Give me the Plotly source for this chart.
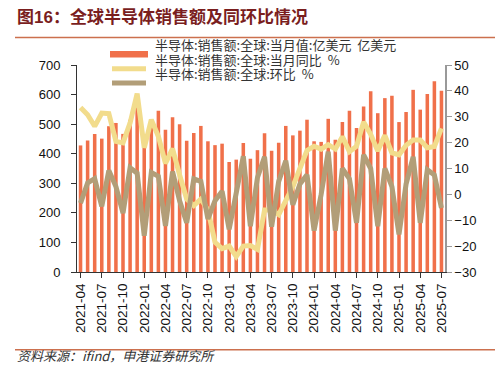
import plotly.graph_objects as go

months = ["2021-04","2021-05","2021-06","2021-07","2021-08","2021-09","2021-10","2021-11","2021-12",
          "2022-01","2022-02","2022-03","2022-04","2022-05","2022-06","2022-07","2022-08","2022-09","2022-10","2022-11","2022-12",
          "2023-01","2023-02","2023-03","2023-04","2023-05","2023-06","2023-07","2023-08","2023-09","2023-10","2023-11","2023-12",
          "2024-01","2024-02","2024-03","2024-04","2024-05","2024-06","2024-07","2024-08","2024-09","2024-10","2024-11","2024-12",
          "2025-01","2025-02","2025-03","2025-04","2025-05","2025-06","2025-07"]

sales = [428,445,467,451,493,504,467,515,557,464,515,545,481,523,500,444,470,494,442,429,434,
         372,380,436,383,412,469,410,437,494,462,478,515,442,440,518,447,507,545,487,560,611,537,
         588,596,507,541,616,549,602,645,613]

yoy = [33.6,30.8,26.3,31.4,31.2,20.5,19.9,27.6,39.0,18.0,28.9,22.4,12.0,17.7,7.5,-1.8,-4.3,-1.8,-6.0,
       -18.5,-21.0,-20.0,-24.0,-20.0,-19.8,-21.3,-6.0,-6.0,-7.8,-2.0,3.0,10.0,17.0,18.6,17.5,19.2,17.5,
       22.3,16.5,18.6,28.0,23.2,16.8,22.8,16.0,15.3,19.0,21.0,21.0,18.0,18.5,25.5]

mom = [-3.4,4.4,6.1,-4.6,9.2,3.0,-7.2,10.3,8.2,-16.0,8.5,7.0,-12.2,8.8,-2.5,-11.0,6.0,5.0,-9.5,-2.5,1.2,
       -13.5,0.5,14.7,-12.3,6.5,14.5,-12.5,5.0,13.0,-4.0,4.0,7.6,-14.0,0.0,16.5,-14.0,10.0,6.0,-11.0,15.3,
       10.0,-12.3,10.0,3.0,-15.5,4.0,14.5,-11.0,9.5,7.5,-5.3]

tick_labels = months[::3]

names = ["半导体:销售额:全球:当月值:亿美元  亿美元",
         "半导体:销售额:全球:当月同比  %",
         "半导体:销售额:全球:环比  %"]

bar_color = "rgb(240,112,74)"
yoy_color = "rgb(242,220,140)"
mom_color = "rgb(178,158,120)"

FONT = "Arial, Liberation Sans, Noto Sans CJK SC, sans-serif"
CJK = "Noto Sans CJK SC, sans-serif"

fig = go.Figure()
fig.add_trace(go.Bar(x=months, y=sales, name=names[0], marker_color=bar_color,
                     marker_line_width=0, yaxis="y", showlegend=False))
fig.add_trace(go.Scatter(x=months, y=yoy, name=names[1], mode="lines",
                         line=dict(color=yoy_color, width=5), yaxis="y2", showlegend=False))
fig.add_trace(go.Scatter(x=months, y=mom, name=names[2], mode="lines",
                         line=dict(color=mom_color, width=5), yaxis="y2", showlegend=False))

W, H = 503, 371
L, R, T, B = 69, 437, 57, 264

def px(x):
    return (x - L) / (R - L)

def py(y):
    return (B - y) / (B - T)

shapes = []
annotations = []
rule_color = "rgb(204,112,78)"
shapes.append(dict(type="line", xref="paper", yref="paper", x0=px(7), x1=px(497), y0=py(29.5), y1=py(29.5),
                   line=dict(color=rule_color, width=1.5)))
shapes.append(dict(type="line", xref="paper", yref="paper", x0=px(7), x1=px(497), y0=py(341.7), y1=py(341.7),
                   line=dict(color=rule_color, width=1.5)))
annotations.append(dict(text="<b>图16：全球半导体销售额及同环比情况</b>", xref="paper", yref="paper",
                        x=px(7), y=py(9), xanchor="left", yanchor="middle", showarrow=False,
                        font=dict(family=FONT, size=17, color="rgb(122,30,30)")))
annotations.append(dict(text="资料来源：ifind，申港证券研究所", xref="paper", yref="paper",
                        x=px(7), y=py(347), xanchor="left", yanchor="middle", showarrow=False,
                        font=dict(family=CJK, size=13, color="#333333", style="italic")))

# manual legend
shapes.append(dict(type="rect", xref="paper", yref="paper", x0=px(102), x1=px(140), y0=py(49.5), y1=py(43),
                   fillcolor=bar_color, line=dict(width=0)))
shapes.append(dict(type="line", xref="paper", yref="paper", x0=px(104), x1=px(138), y0=py(60.7), y1=py(60.7),
                   line=dict(color=yoy_color, width=5)))
shapes.append(dict(type="line", xref="paper", yref="paper", x0=px(104), x1=px(138), y0=py(75), y1=py(75),
                   line=dict(color=mom_color, width=5)))
for nm, yy in zip(names, [46.3, 60.7, 75]):
    annotations.append(dict(text=nm, xref="paper", yref="paper", x=px(145), y=py(yy - 9.5),
                            xanchor="left", yanchor="middle", showarrow=False,
                            font=dict(family=CJK, size=13, color="#333333")))

fig.update_layout(
    width=W, height=H,
    margin=dict(l=L, r=W - R, t=T, b=H - B),
    paper_bgcolor="white", plot_bgcolor="white",
    bargap=0.5,
    font=dict(family=FONT, size=13, color="#222222"),
    showlegend=False,
    xaxis=dict(type="category", tickmode="array", tickvals=tick_labels, ticktext=tick_labels,
               tickangle=-90, ticks="outside", ticklen=5, tickcolor="#333333",
               showline=True, linecolor="#333333", linewidth=1, showgrid=False,
               tickfont=dict(size=13.5, color="#111111"), range=[-0.5, len(months) - 0.5]),
    yaxis=dict(range=[0, 700], dtick=100, ticks="outside", ticklen=5, tickcolor="#333333",
               showline=True, linecolor="#333333", linewidth=1, showgrid=False, zeroline=False,
               ticklabelstandoff=8, tickfont=dict(size=13, color="#111111")),
    yaxis2=dict(range=[-30, 50], dtick=10, overlaying="y", side="right", ticks="outside", ticklen=5,
                tickcolor="#999999", showline=True, linecolor="#999999", linewidth=1.5, showgrid=False,
                zeroline=False, tickfont=dict(size=13, color="#111111")),
    shapes=shapes, annotations=annotations,
)

fig.write_html("out.html")
